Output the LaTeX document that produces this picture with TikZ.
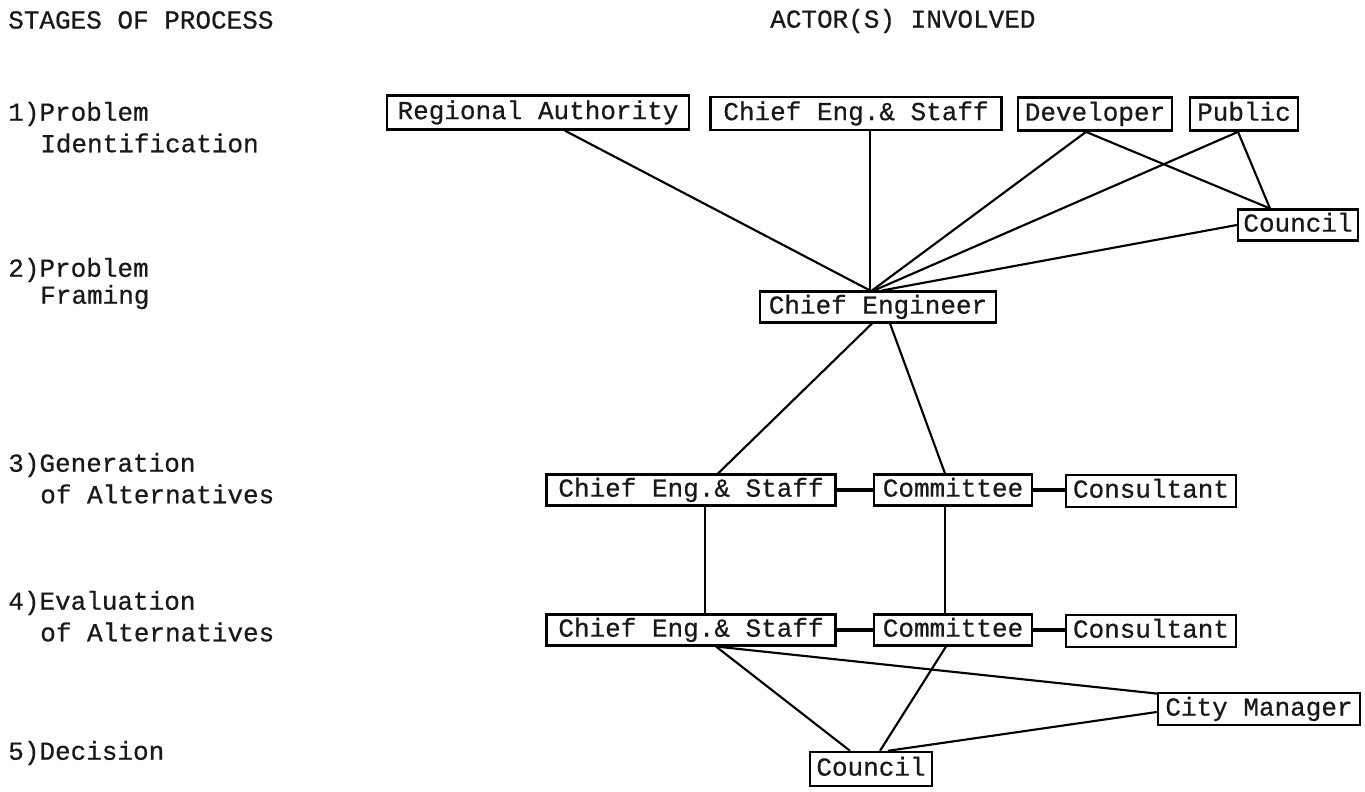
\documentclass[tikz,border=0pt]{standalone}
\usepackage{fontspec}
\usetikzlibrary{calc}
\newfontfamily\tw{Liberation Mono}[FakeBold=0.6]
\begin{document}
\begin{tikzpicture}[x=0.75pt,y=-0.75pt,
  every node/.style={font=\tw\fontsize{19.5}{22}\selectfont, text=black!90},
  actor/.style={draw, line width=1.8pt, inner sep=0pt, minimum height=23pt,
    text height=12pt, text depth=2pt},
  link/.style={line width=1.6pt},
  tie/.style={line width=2.6pt},
  stage/.style={anchor=west, inner sep=0pt}]
\useasboundingbox (0,0) rectangle (1365,792);

% column headings
\node[stage] (hs) at (8,20) {STAGES OF PROCESS};
\node[stage] (ha) at (770,21) {ACTOR(S) INVOLVED};

% stages
\node[stage] (s1a) at (8,114) {1)Problem};
\node[stage] (s1b) at (40,143) {Identification};
\node[stage] (s2a) at (8,270) {2)Problem};
\node[stage] (s2b) at (40,297) {Framing};
\node[stage] (s3a) at (8,465) {3)Generation};
\node[stage] (s3b) at (40,494) {of Alternatives};
\node[stage] (s4a) at (8,603) {4)Evaluation};
\node[stage] (s4b) at (40,632) {of Alternatives};
\node[stage] (s5a) at (8,753) {5)Decision};

% actors
\node[actor, minimum width=226.5pt, minimum height=25.5pt] (ra) at (538,112.5) {Regional Authority};
\node[actor, minimum width=218pt, minimum height=25pt] (ces1) at (856,113.5) {Chief Eng.\& Staff};
\node[actor, minimum width=115.5pt, minimum height=25pt] (dev) at (1095,114) {Developer};
\node[actor, minimum width=81pt, minimum height=25pt] (pub) at (1244,114) {Public};
\node[actor, minimum width=90pt] (cou1) at (1298,225) {Council};
\node[actor, minimum width=177pt] (ce) at (878,307) {Chief Engineer};
\node[actor, minimum width=216.5pt] (ces3) at (691,490) {Chief Eng.\& Staff};
\node[actor, minimum width=118.5pt] (com3) at (953,490) {Committee};
\node[actor, minimum width=127.5pt, minimum height=24pt] (con3) at (1151,491) {Consultant};
\node[actor, minimum width=216.5pt] (ces4) at (691,630) {Chief Eng.\& Staff};
\node[actor, minimum width=118.5pt] (com4) at (953,630) {Committee};
\node[actor, minimum width=127.5pt, minimum height=24pt] (con4) at (1151,631) {Consultant};
\node[actor, minimum width=151.5pt, minimum height=24pt] (cm) at (1259,709) {City Manager};
\node[actor, minimum width=91.5pt, minimum height=25.5pt] (cou5) at (871,769) {Council};

% problem identification -> framing
\draw[link] ($(ra.south)+(27,0)$) -- ($(ce.north)+(-8,0)$);
\draw[link] ($(ces1.south)+(14,0)$) -- ($(ce.north)+(-8,0)$);
\draw[link] ($(dev.south)+(-9,0)$) -- ($(ce.north)+(-6,0)$);
\draw[link] ($(pub.south)+(-6,0)$) -- ($(ce.north)+(-4,0)$);
\draw[link] (cou1.west) -- ($(ce.north)+(4,0)$);
\draw[link] ($(dev.south)+(-9,0)$) -- ($(cou1.north)+(-28,0)$);
\draw[link] ($(pub.south)+(-6,0)$) -- ($(cou1.north)+(-28,0)$);

% framing -> generation
\draw[link] ($(ce.south)+(-6,0)$) -- ($(ces3.north)+(27,0)$);
\draw[link] ($(ce.south)+(12,0)$) -- ($(com3.north)+(-8,0)$);
\draw[tie] (ces3.east) -- (com3.west);
\draw[tie] (com3.east) -- (con3.west |- com3.east);

% generation -> evaluation
\draw[link] ($(ces3.south)+(14,0)$) -- ($(ces4.north)+(14,0)$);
\draw[link] ($(com3.south)+(-8,0)$) -- ($(com4.north)+(-8,0)$);
\draw[tie] (ces4.east) -- (com4.west);
\draw[tie] (com4.east) -- (con4.west |- com4.east);

% evaluation -> decision
\draw[link] ($(ces4.south)+(25,0)$) -- ($(cou5.north)+(-21,0)$);
\draw[link] ($(com4.south)+(-7,0)$) -- ($(cou5.north)+(9,0)$);
\draw[link] ($(ces4.south)+(25,0)$) -- ($(cm.north west)+(2,2)$);
\draw[link] ($(cm.west)+(0,3)$) -- ($(cou5.north)+(17,0)$);
\end{tikzpicture}
\end{document}
